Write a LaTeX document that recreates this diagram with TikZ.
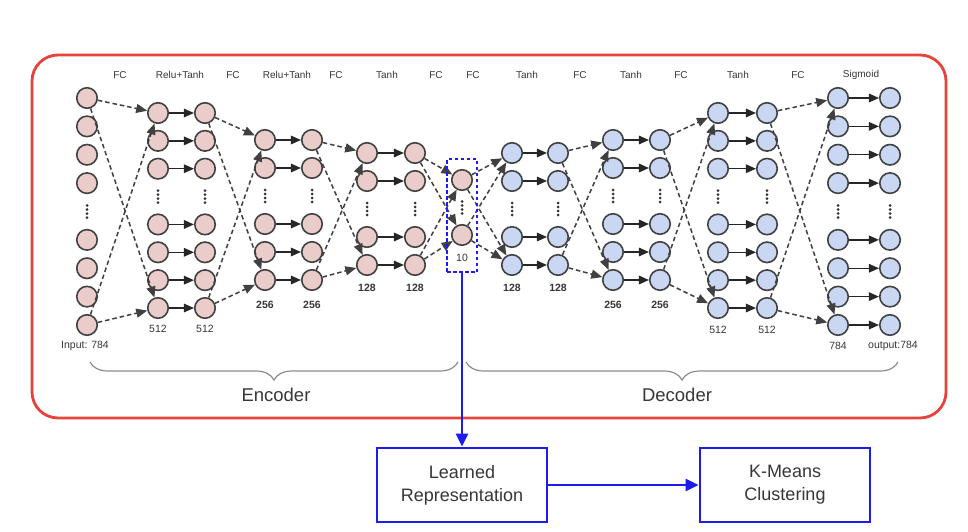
\documentclass[tikz,border=0pt]{standalone}
\usepackage{fontspec}
\setmainfont{Liberation Sans}
\usetikzlibrary{arrows.meta,decorations.pathreplacing}
\definecolor{encfill}{RGB}{234,205,202}
\definecolor{decfill}{RGB}{201,215,242}
\definecolor{ringc}{RGB}{65,65,65}
\definecolor{framered}{RGB}{232,66,60}
\definecolor{myblue}{RGB}{28,28,240}
\definecolor{labc}{RGB}{55,55,55}
\definecolor{bracec}{RGB}{140,140,140}
% column maker: #1 name, #2 x, #3 y0, #4 step, #5 last index, #6 dots index, #7 style
\newcommand{\mkcol}[7]{%
  \foreach \k in {0,...,#5}{%
    \ifnum\k=#6\relax
      \foreach \d in {-6,-2,2,6}{\fill[black!80] (#2,{#3+#4*\k+\d}) circle (1.5pt);}
    \else
      \node[#7] (#1-\k) at (#2,{#3+#4*\k}) {};
    \fi}}
% X-shaped dashed connections: #1 src, #2 src last, #3 tgt, #4 tgt last
\newcommand{\xconn}[4]{%
  \draw[dasharrow] (#1-0) -- (#3-0);
  \draw[dasharrow] (#1-0) -- (#3-#4);
  \draw[dasharrow] (#1-#2) -- (#3-0);
  \draw[dasharrow] (#1-#2) -- (#3-#4);}
\begin{document}
\begin{tikzpicture}[x=1pt,y=-1pt,
  neuron/.style={circle,draw=ringc,line width=1.6pt,minimum size=20.5pt,inner sep=0pt},
  enc/.style={neuron,fill=encfill},
  dec/.style={neuron,fill=decfill},
  solidarrow/.style={draw=black!85,line width=1.4pt,-{Triangle[length=10pt,width=8.5pt]}},
  dasharrow/.style={draw=black!75,line width=1.5pt,dash pattern=on 4.5pt off 3pt,-{Triangle[length=11pt,width=9pt]}},
  toplab/.style={font=\fontsize{10}{12}\selectfont,text=labc,inner sep=0pt},
  numlab/.style={font=\fontsize{10.5}{12}\selectfont,text=labc,inner sep=0pt},
  boldlab/.style={font=\fontsize{10.5}{12}\selectfont\bfseries,text=labc,inner sep=0pt},
  partlab/.style={font=\fontsize{18.5}{22}\selectfont,text=labc,inner sep=0pt},
  bluebox/.style={draw=myblue,line width=2.8pt,minimum width=170pt,minimum height=74pt,align=center,font=\fontsize{18}{23}\selectfont,text=labc},
  bluearrow/.style={draw=myblue,line width=2.6pt,-{Triangle[length=13pt,width=12pt]}},
  bracestyle/.style={draw=bracec,line width=1.2pt,decorate,decoration={brace,amplitude=18pt,mirror}}
]
\useasboundingbox (0,0) rectangle (968,532);
\fill[white] (0,0) rectangle (968,532);
% frame
\draw[framered,line width=2.8pt,rounded corners=26pt] (32,55) rectangle (946,418);
% top labels
\node[toplab] (t1) at (120,75) {FC};
\node[toplab] (t2) at (180,75) {Relu+Tanh};
\node[toplab] (t3) at (233,75) {FC};
\node[toplab] (t4) at (287,75) {Relu+Tanh};
\node[toplab] (t5) at (336,75) {FC};
\node[toplab] (t6) at (387,75) {Tanh};
\node[toplab] (t7) at (436,75) {FC};
\node[toplab] (t8) at (473,75) {FC};
\node[toplab] (t9) at (527,75) {Tanh};
\node[toplab] (t10) at (580,75) {FC};
\node[toplab] (t11) at (631,75) {Tanh};
\node[toplab] (t12) at (681,75) {FC};
\node[toplab] (t13) at (738,75) {Tanh};
\node[toplab] (t14) at (798,75) {FC};
\node[toplab] (t15) at (861,75) {Sigmoid};
% columns
\mkcol{c0}{87}{98}{28.375}{8}{4}{enc}
\mkcol{c1}{158}{113}{27.86}{7}{3}{enc}
\mkcol{c2}{205}{113}{27.86}{7}{3}{enc}
\mkcol{c3}{265}{140}{28}{5}{2}{enc}
\mkcol{c4}{312}{140}{28}{5}{2}{enc}
\mkcol{c5}{367}{153}{28}{4}{2}{enc}
\mkcol{c6}{415}{153}{28}{4}{2}{enc}
\mkcol{c7}{462}{180}{27.5}{2}{1}{enc}
\mkcol{c8}{512}{153}{28}{4}{2}{dec}
\mkcol{c9}{558}{153}{28}{4}{2}{dec}
\mkcol{c10}{613}{140}{28}{5}{2}{dec}
\mkcol{c11}{660}{140}{28}{5}{2}{dec}
\mkcol{c12}{718}{113}{27.86}{7}{3}{dec}
\mkcol{c13}{767}{113}{27.86}{7}{3}{dec}
\mkcol{c14}{838}{98}{28.375}{8}{4}{dec}
\mkcol{c15}{890}{98}{28.375}{8}{4}{dec}
% solid arrows within layers
\foreach \k in {0,1,2,4,5,6,7}{\draw[solidarrow] (c1-\k) -- (c2-\k); \draw[solidarrow] (c12-\k) -- (c13-\k);}
\foreach \k in {0,1,3,4,5}{\draw[solidarrow] (c3-\k) -- (c4-\k); \draw[solidarrow] (c10-\k) -- (c11-\k);}
\foreach \k in {0,1,3,4}{\draw[solidarrow] (c5-\k) -- (c6-\k); \draw[solidarrow] (c8-\k) -- (c9-\k);}
\foreach \k in {0,1,2,3,5,6,7,8}{\draw[solidarrow] (c14-\k) -- (c15-\k);}
% dashed connections between layers
\xconn{c0}{8}{c1}{7}
\xconn{c2}{7}{c3}{5}
\xconn{c4}{5}{c5}{4}
\xconn{c6}{4}{c7}{2}
\xconn{c7}{2}{c8}{4}
\xconn{c9}{4}{c10}{5}
\xconn{c11}{5}{c12}{7}
\xconn{c13}{7}{c14}{8}
% latent box
\node[draw=myblue,line width=1.4pt,dash pattern=on 3.5pt off 2.5pt,minimum width=30pt,minimum height=113pt,inner sep=0pt] (lat) at (462,215.5) {};
% size labels
\node[numlab] (l0) at (85,346) {Input: 784};
\node[numlab] (l1) at (158,329) {512};
\node[numlab] (l2) at (205,329) {512};
\node[boldlab] (l3) at (265,305) {256};
\node[boldlab] (l4) at (312,305) {256};
\node[boldlab] (l5) at (367,288) {128};
\node[boldlab] (l6) at (415,288) {128};
\node[numlab] (l7) at (462,258) {10};
\node[boldlab] (l8) at (512,288) {128};
\node[boldlab] (l9) at (558,288) {128};
\node[boldlab] (l10) at (613,305) {256};
\node[boldlab] (l11) at (660,305) {256};
\node[numlab] (l12) at (718,330) {512};
\node[numlab] (l13) at (767,330) {512};
\node[numlab] (l14) at (838,346) {784};
\node[numlab] (l15) at (893,346) {output:784};
% braces
\coordinate (eb1) at (90,362);
\coordinate (eb2) at (458,362);
\coordinate (db1) at (466,362);
\coordinate (db2) at (898,362);
\draw[bracestyle] (eb1) -- (eb2);
\draw[bracestyle] (db1) -- (db2);
\node[partlab] (encl) at (276,395) {Encoder};
\node[partlab] (decl) at (677,395) {Decoder};
% bottom boxes
\node[bluebox] (lr) at (462,485) {Learned\\Representation};
\node[bluebox] (km) at (785,485) {K-Means\\Clustering};
\draw[bluearrow] (lat.south) -- (lr.north);
\draw[bluearrow] (lr.east) -- (km.west);
\end{tikzpicture}
\end{document}
